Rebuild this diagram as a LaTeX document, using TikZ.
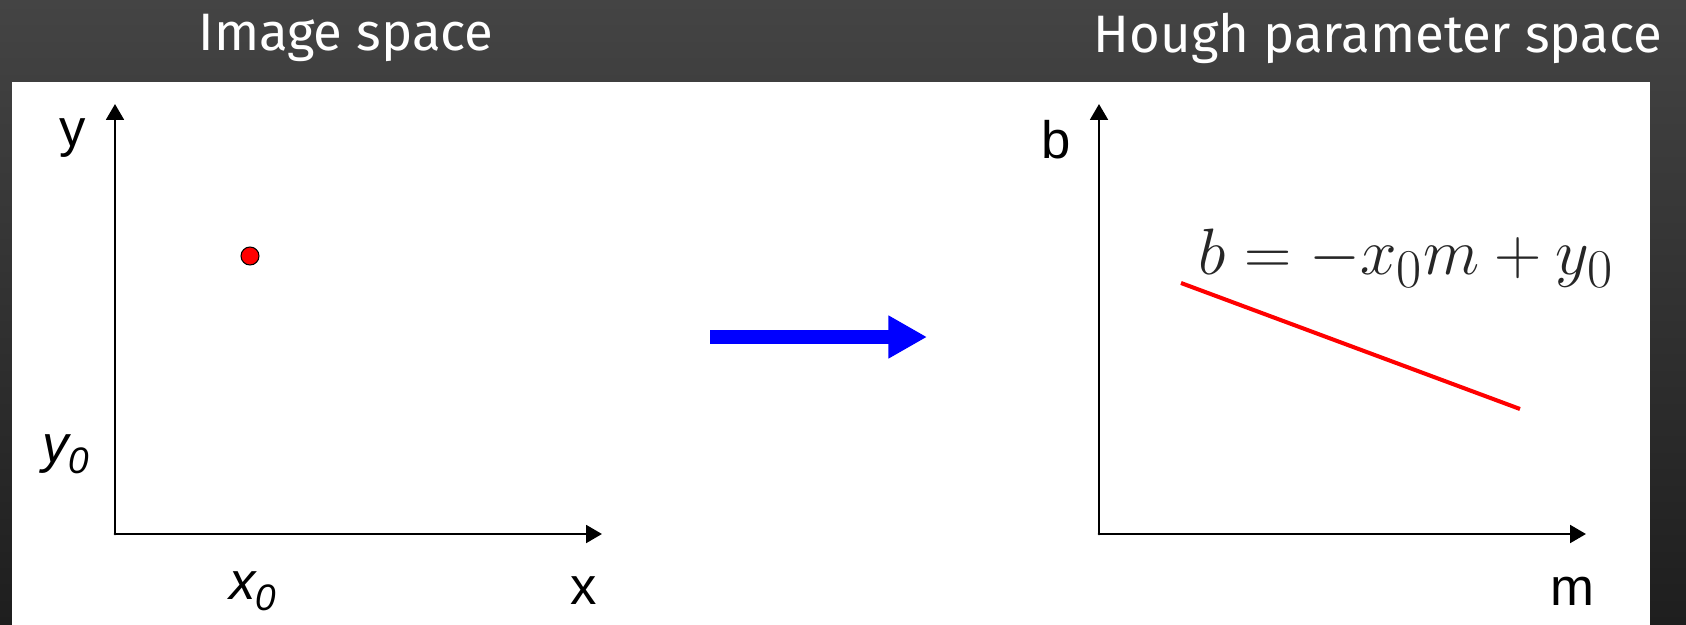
\documentclass[tikz,border=0pt]{standalone}
\usepackage{fontspec}
\setmainfont{Liberation Sans}
\newfontfamily\titlefont{Fira Sans}
\usetikzlibrary{arrows.meta}
\definecolor{bgtop}{HTML}{444444}
\definecolor{bgbot}{HTML}{1E1E1E}
\tikzset{
  axis/.style={line width=1.6pt,-{Triangle[width=10pt,length=9pt]}},
  axislbl/.style={font=\fontsize{30}{36}\selectfont},
  title/.style={text=white,font=\titlefont\fontsize{30}{36}\selectfont},
}
\begin{document}
\begin{tikzpicture}[x=0.02cm,y=-0.02cm,line join=round,line cap=round]
\shade[top color=bgtop,bottom color=bgbot] (0,0) rectangle (1686,625);
\fill[white] (12,82) rectangle (1650,625);
\useasboundingbox (0,0) rectangle (1686,625);
\foreach \t/\x/\y in {O1/115/534,Y1/115/104,X1/602/534,O2/1099/534,Y2/1099/104,X2/1586/534,P/250/256,L1/1181/283,L2/1520/409,A1/710/337,A2/927/337}
\coordinate (\t) at (\x,\y);
% titles
\node[title] (imgtitle) at (346,38) {Image space};
\node[title] (houghtitle) at (1378,38) {Hough parameter space};
% image space
\draw[axis] (O1)--(Y1);
\draw[axis] (O1)--(X1);
\draw[fill=red,line width=0.6pt] (P) circle (9);
\node[axislbl] (ylbl) at (73,138) {y};
\node[axislbl] (xlbl) at (584,591) {x};
\node[axislbl] (yzero) at (66,454) {\itshape y\textsubscript{0}};
\node[axislbl] (xzero) at (253,591) {\itshape x\textsubscript{0}};
% mapping
\draw[blue,line width=8pt,line cap=butt,-{Triangle[width=23pt,length=22pt]}] (A1)--(A2);
% parameter space
\draw[axis] (O2)--(Y2);
\draw[axis] (O2)--(X2);
\draw[red,line width=2.3pt,line cap=butt] (L1)--(L2);
\node[axislbl] (blbl) at (1056,140) {b};
\node[axislbl] (mlbl) at (1572,591) {m};
\node[font=\fontsize{24.88}{30}\selectfont,text=black!85] (eqn) at (1406,258) {\scalebox{1.5}{$b=-x_0m+y_0$}};
\end{tikzpicture}
\end{document}
